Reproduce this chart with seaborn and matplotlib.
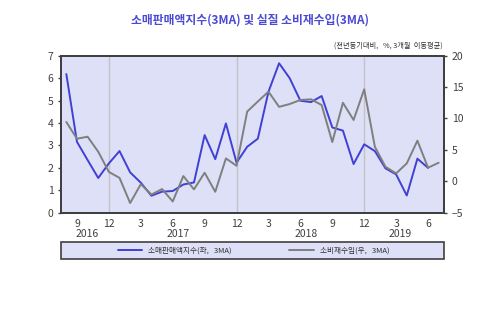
import numpy as np
import pandas as pd
import matplotlib
matplotlib.use("Agg")
import matplotlib.pyplot as plt
from matplotlib.patches import Rectangle
import seaborn as sns

# Monthly series, Aug 2016 - Jul 2019 (3-month moving averages, YoY %)
months = pd.period_range("2016-08", "2019-07", freq="M")
retail_sales = [6.18, 3.16, 2.35, 1.55, 2.20, 2.75, 1.80, 1.34, 0.76, 0.94,
                0.97, 1.26, 1.35, 3.46, 2.39, 3.98, 2.23, 2.94, 3.30, 5.39,
                6.66, 5.99, 4.99, 4.93, 5.20, 3.80, 3.66, 2.17, 3.05, 2.75,
                1.98, 1.71, 0.77, 2.41, 2.00, np.nan]
consumer_imports = [9.44, 6.78, 7.10, 4.71, 1.50, 0.55, -3.45, -0.45, -2.10, -1.23,
                    -3.20, 0.84, -1.28, 1.37, -1.66, 3.65, 2.48, 11.10, 12.70, 14.27,
                    11.85, 12.30, 12.94, 13.05, 12.14, 6.25, 12.50, 9.76, 14.64, 5.51,
                    2.32, 1.26, 2.86, 6.47, 2.17, 2.96]

title = "소매판매액지수(3MA) 및 실질 소비재수입(3MA)"
unit_note = "(전년동기대비,   %, 3개월  이동평균)"
label_left = "소매판매액지수(좌,   3MA)"
label_right = "소비재수입(우,   3MA)"

df = pd.DataFrame({
    "t": np.arange(len(months)),
    "month": [p.month for p in months],
    "year": [p.year for p in months],
    "retail": retail_sales,
    "imports": consumer_imports,
})

sns.set_style("white")
plt.rcParams["font.family"] = ["Noto Sans CJK KR", "DejaVu Sans"]

BG = "#dde0f6"
BLUE = "#4040d4"
GRAY = "#7f7f7f"
SPINE = "#404040"
TXT = "#404040"

fig = plt.figure(figsize=(5.0, 3.33), dpi=100)
ax = fig.add_axes([0.122, 0.361, 0.766, 0.472])
ax.set_facecolor(BG)
ax2 = ax.twinx()
ax2.patch.set_visible(False)

sns.lineplot(data=df, x="t", y="retail", ax=ax, color=BLUE, lw=1.4,
             label=label_left, legend=False)
sns.lineplot(data=df, x="t", y="imports", ax=ax2, color=GRAY, lw=1.4,
             label=label_right, legend=False)

ax.set_xlim(-0.5, len(months) - 0.5)
ax.set_ylim(0, 7)
ax2.set_ylim(-5, 20)
ax.set_yticks(range(0, 8))
ax2.set_yticks(range(-5, 21, 5))

quarter = df[df["month"] % 3 == 0]
ax.set_xticks(quarter["t"])
ax.set_xticklabels([str(m) for m in quarter["month"]])

# December separators
for t in df.loc[df["month"] == 12, "t"]:
    ax.axvline(t, color="#c4c4c8", lw=1.0, zorder=0)

for a in (ax, ax2):
    a.set_xlabel("")
    a.set_ylabel("")
    for s in a.spines.values():
        s.set_color(SPINE)
        s.set_linewidth(1.4)
    a.tick_params(axis="both", colors=SPINE, labelcolor=TXT, labelsize=7.5,
                  length=2.5, width=1, pad=3)
ax.tick_params(axis="x", pad=2)
ax.spines["top"].set_color("#606060")

# Year labels under the month ticks
year_pos = {2016: 2.0, 2017: 10.5, 2018: 22.5, 2019: 31.4}
for yr, xpos in year_pos.items():
    ax.text(xpos, -0.135, str(yr), transform=ax.get_xaxis_transform(),
            ha="center", va="center", fontsize=7.5, color=TXT)

fig.text(0.5, 0.94, title, ha="center", va="center", fontsize=8.5,
         fontweight="bold", color="#4a4ad2")
fig.text(0.886, 0.862, unit_note, ha="right", va="center", fontsize=5.2,
         color="#303030")

# Legend box
fig.patches.append(Rectangle((0.121, 0.222), 0.767, 0.051, transform=fig.transFigure,
                             facecolor=BG, edgecolor=SPINE, lw=1.2, zorder=0))
handles = ax.get_lines()[:1] + ax2.get_lines()[:1]
fig.legend(handles, [label_left, label_right], loc="center",
           bbox_to_anchor=(0.507, 0.2475), ncol=2, frameon=False,
           fontsize=5.5, handlelength=3.2, columnspacing=7.5,
           handletextpad=0.8, labelcolor="#303030")

fig.savefig("out.png", dpi=100)
